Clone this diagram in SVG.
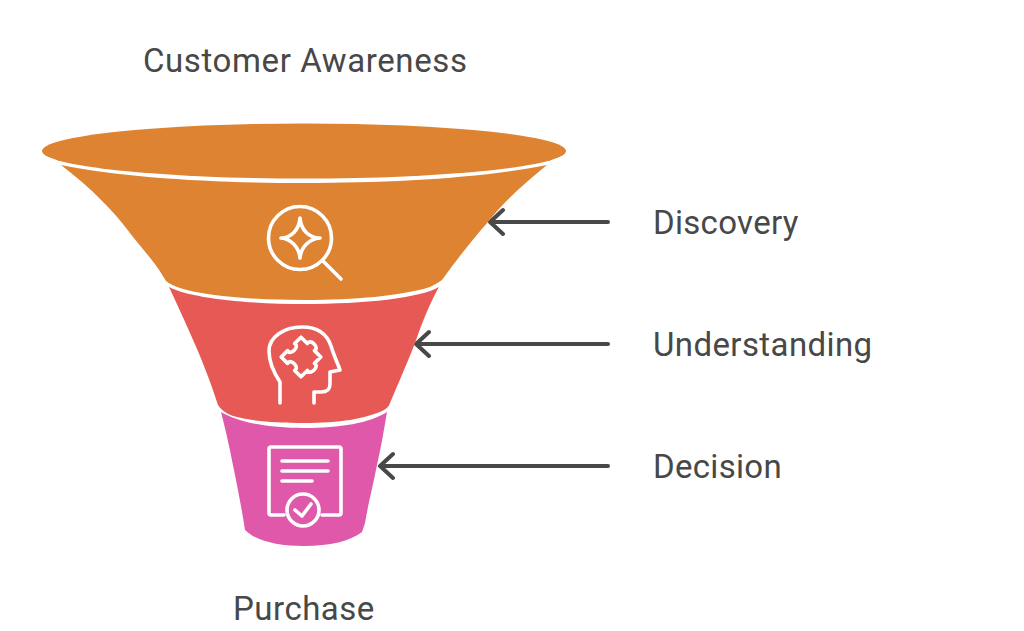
<svg xmlns="http://www.w3.org/2000/svg" width="1024" height="631" viewBox="0 0 1024 631">
<style>
text{font-family:Roboto,"Liberation Sans",sans-serif;font-size:33px;fill:#484848;letter-spacing:.3px}
.ic{fill:none;stroke:#fff;stroke-width:3.6;stroke-linecap:round;stroke-linejoin:round}
.ar{fill:none;stroke:#484848;stroke-width:4;stroke-linecap:round;stroke-linejoin:round}
</style>
<rect width="1024" height="631" fill="#fff"/>
<g id="connectors">
<path class="ar" d="M608 222H490M503 210L490 222L503 234"/>
<path class="ar" d="M608 344H416M429 332L416 344L429 356"/>
<path class="ar" d="M608 466H380M393 454L380 466L393 478"/>
</g>
<g id="discovery">
<path d="M61 165C125 178 215 183 304 183C393 183 483 178 547 165C525 183 505 200 488 222C472 240 458 258 442 280Q438 283 430 287C400 296 355 300 304 300C255 300 205 296 180 288Q171 285 166 281C155 262 145 252 133 237C115 212 90 187 61 165Z" fill="#dd8332"/>
<ellipse cx="304" cy="151" rx="262" ry="27.500" fill="#dd8332"/>
<path class="ic" d="M300 218C301 230 309 238 320 238C309 239 301 247 300 258C299 247 291 239 281 238C291 238 299 230 300 218Z"/>
<circle class="ic" cx="300" cy="238" r="31.500"/>
<path class="ic" d="M323 261L341 279"/>
<text x="653" y="234">Discovery</text>
</g>
<g id="understanding">
<path d="M439 287C430 303 423 320 415 343C406 366 398 384 390 403Q389 407 384 410C365 419 340 423 304 423C275 423 250 421 233 416Q222 412 218 405C210 380 200 355 190 333C183 317 176 302 169 287C190 298 245 304 304 304C365 304 420 298 439 287Z" fill="#e65955"/>
<path class="ic" d="M280 403V382C274 373 269 362 269 351C269 337 284 327 302 327C318 327 327 334 331 346C334 356 338 364 340 370L330 372V384C330 390 327 392 321 392H314V403"/>
<path class="ic" transform="translate(301 357) rotate(45)" d="M-14 -14H-5C-7 -20 7 -20 5 -14H14V-5C20 -7 20 7 14 5V14H5C7 8 -7 8 -5 14H-14V5C-8 7 -8 -7 -14 -5Z"/>
<text x="653" y="356" style="letter-spacing:.4px">Understanding</text>
</g>
<g id="decision">
<path d="M387 412C384 430 381 447 377 465C372 490 368 505 365 523L362 532C350 541 330 546 304 546C278 546 256 541 245 530C242 510 238 490 234 470C231 455 227 435 221 412C240 423 270 428 304 428C340 428 370 423 387 412Z" fill="#df58a9"/>
<path class="ic" d="M284 515H271Q269 515 269 513V449Q269 447 271 447H339Q341 447 341 449V513Q341 515 339 515H322"/>
<path class="ic" d="M282 461H328M282 471H328M282 481H312"/>
<circle class="ic" cx="303" cy="510" r="16"/>
<path class="ic" d="M295 510L302 516L311 504"/>
<text x="653" y="478">Decision</text>
</g>
<g id="labels">
<text x="143" y="72" style="letter-spacing:.6px">Customer Awareness</text>
<text x="233" y="620" style="letter-spacing:.5px">Purchase</text>
</g>
</svg>
